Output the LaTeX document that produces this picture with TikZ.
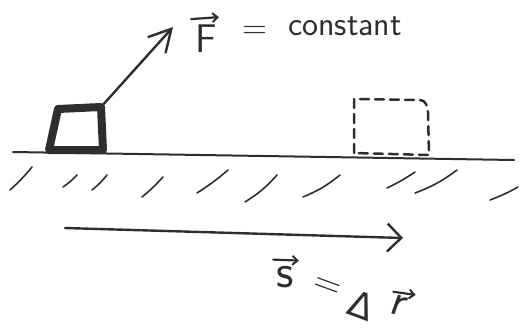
\documentclass[tikz,border=0pt]{standalone}
\usepackage{fontspec}
\newfontfamily\dvsans{DejaVu Sans}
\usetikzlibrary{arrows.meta}
\begin{document}
\begin{tikzpicture}[x=1pt,y=1pt,
  ink/.style={draw=black!82, line cap=round, line join=round},
  thinline/.style={ink, line width=2pt},
  hatch/.style={ink, line width=1.6pt},
  vecarrow/.style={ink, line width=2.2pt, -{Straight Barb[length=5pt,width=9pt,line width=2pt]}},
  txt/.style={text=black!82, inner sep=0pt, font=\sffamily\fontsize{34}{36}\selectfont},
  big/.style={font=\sffamily\fontsize{40}{42}\selectfont},
  ]
\useasboundingbox (0,0) rectangle (521,-327);
% ground
\coordinate (gl) at (13,-152);
\coordinate (gr) at (514,-160);
\draw[thinline] (gl) -- (gr);
% solid box
\coordinate (bbl) at (49,-150);
\coordinate (btl) at (58,-109);
\coordinate (btr) at (101,-107);
\coordinate (bbr) at (103,-150);
\draw[ink, line width=8pt] (bbl) -- (btl) -- (btr) -- (bbr) -- cycle;
% dashed box (final position)
\coordinate (dbl) at (354,-153);
\coordinate (dtl) at (354,-99);
\coordinate (dbr) at (429,-155);
\draw[ink, line width=2.5pt, dash pattern=on 9pt off 6pt]
  (dbl) -- (dtl) -- (420,-100) to[out=0,in=95] (428,-112) -- (dbr) -- cycle;
% force arrow
\coordinate (ftip) at (173,-27);
\draw[ink, line width=2.4pt, -{Straight Barb[length=22pt,width=24pt,line width=2.4pt]}] (btr) -- (ftip);
\node[txt, big, anchor=base] (flabel) at (206,-52) {F};
\draw[vecarrow] ([shift={(-4,5)}]flabel.north west) -- ([shift={(2,7)}]flabel.north east);
\node[txt] (feq) at (255,-32) {=};
\node[txt, anchor=base west] (fconst) at (288,-35) {constant};
% hatching
\draw[hatch] (10,-190) to[bend right=4] (32,-167);
\draw[hatch] (63,-187) to[bend right=6] (77,-175);
\draw[hatch] (92,-190) to[bend right=6] (107,-175);
\draw[hatch] (142,-197) to[bend right=4] (163,-177);
\draw[hatch] (197,-193) to[bend right=4] (228,-170);
\draw[hatch] (245,-202) to[bend right=8] (277,-175);
\draw[hatch] (303,-197) to[bend right=8] (340,-175);
\draw[hatch] (387,-188) to[bend right=4] (415,-172);
\draw[hatch] (415,-193) to[bend right=8] (457,-170);
\draw[hatch] (490,-200) to[bend right=4] (518,-187);
% displacement arrow
\coordinate (sstart) at (65,-228);
\coordinate (send) at (403,-238);
\draw[ink, line width=2.4pt, -{Straight Barb[length=14pt,width=28pt,line width=2.4pt]}] (sstart) -- (send);
\node[txt, font=\sffamily\fontsize{48}{50}\selectfont, anchor=base] (slabel) at (285,-287) {s};
\draw[vecarrow] ([shift={(-3,6)}]slabel.north west) -- ([shift={(5,5)}]slabel.north east);
\node[txt, font=\sffamily\fontsize{38}{40}\selectfont, rotate=-20] (req) at (327,-288) {=};
\node[txt, font=\dvsans\fontsize{36}{38}\selectfont, rotate=-20] (rdelta) at (362,-305) {Δ};
\node[txt, font=\sffamily\fontsize{46}{48}\selectfont, rotate=-20] (rr) at (399,-306) {r};
\draw[vecarrow] ([shift={(-2,2)}]rr.north west) -- ([shift={(6,4)}]rr.north east);
\end{tikzpicture}
\end{document}
